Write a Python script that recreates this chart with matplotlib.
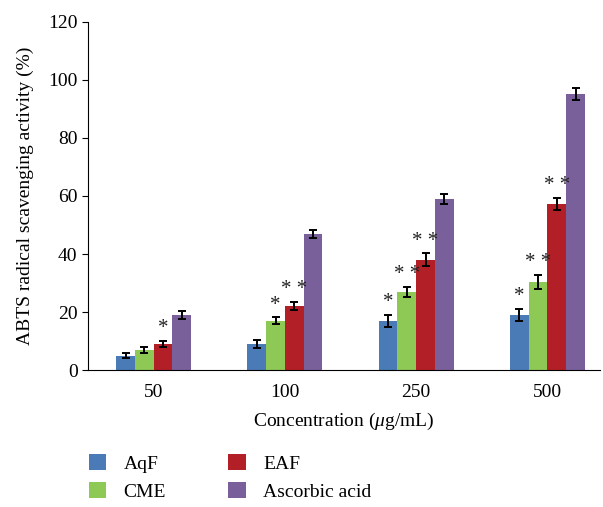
import numpy as np
import matplotlib.pyplot as plt
from matplotlib.patches import Patch

plt.rcParams['font.family'] = ['Liberation Serif', 'DejaVu Serif']
plt.rcParams['mathtext.fontset'] = 'custom'
plt.rcParams['mathtext.rm'] = 'Liberation Serif'
plt.rcParams['mathtext.it'] = 'Liberation Serif:italic'

# data
concentrations = ['50', '100', '250', '500']
series = ['AqF', 'CME', 'EAF', 'Ascorbic acid']
colors = ['#4a7bb6', '#8fc955', '#b31f26', '#7a609b']

aqf = [5, 9, 17, 19]
cme = [7, 17, 27, 30.3]
eaf = [9, 22, 38, 57.2]
asc = [19, 47, 59, 95.2]

aqf_err = [1.0, 1.3, 2.0, 2.2]
cme_err = [1.0, 1.2, 1.8, 2.5]
eaf_err = [1.2, 1.4, 2.2, 2.2]
asc_err = [1.3, 1.4, 1.8, 2.0]

# significance marks per series and concentration
aqf_sig = ['', '', '*', '*']
cme_sig = ['', '*', '* *', '* *']
eaf_sig = ['*', '* *', '* *', '* *']
asc_sig = ['', '', '', '']

values = [aqf, cme, eaf, asc]
errors = [aqf_err, cme_err, eaf_err, asc_err]
marks = [aqf_sig, cme_sig, eaf_sig, asc_sig]

fig = plt.figure(figsize=(6.03, 5.07), dpi=100)
ax = fig.add_axes([0.146, 0.270, 0.849, 0.687])

x = np.arange(len(concentrations))
w = 0.143
for i in range(len(series)):
    pos = x + (i - 1.5) * w
    ax.bar(pos, values[i], width=w, color=colors[i])
    ax.errorbar(pos, values[i], yerr=errors[i], fmt='none', ecolor='black',
                elinewidth=1.4, capsize=3, capthick=1.4)
    for p, v, e, m in zip(pos, values[i], errors[i], marks[i]):
        if m:
            ax.annotate(m, (p, v + e), xytext=(0, 2), textcoords='offset points',
                        ha='center', va='bottom', fontsize=15, color='#222222')

ax.set_xlim(-0.5, 3.4)
ax.set_ylim(0, 120)
ax.set_yticks(range(0, 121, 20))
ax.set_xticks(x)
ax.set_xticklabels(concentrations)
ax.tick_params(axis='x', length=0, labelsize=14, pad=10)
ax.tick_params(axis='y', length=4, labelsize=14, direction='out')
ax.spines['top'].set_visible(False)
ax.spines['right'].set_visible(False)
ax.set_xlabel('Concentration ($\\mu$g/mL)', fontsize=14, labelpad=7)
ax.set_ylabel('ABTS radical scavenging activity (%)', fontsize=14, labelpad=10)

handles = [Patch(facecolor=c) for c in colors]
fig.legend(handles, series, ncol=2, loc='lower left', bbox_to_anchor=(0.118, -0.022),
           frameon=False, fontsize=14, handlelength=0.9, handleheight=0.9,
           columnspacing=3.2, labelspacing=0.45, handletextpad=0.9)

plt.savefig('out.png', dpi=100)
